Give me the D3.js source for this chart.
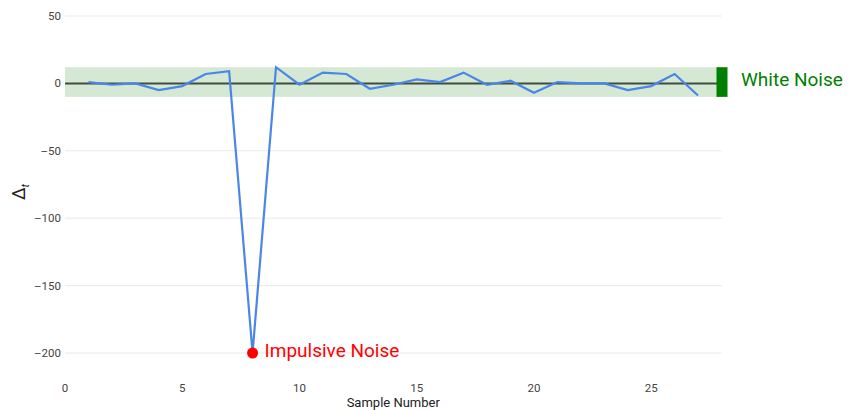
<html>
<head>
<meta charset="utf-8">
<script src="https://cdn.jsdelivr.net/npm/d3@7"></script>
<style>
  body { margin: 0; background: #fff; }
  text { font-family: Roboto, "Noto Sans", sans-serif; }
</style>
<title>White vs impulsive noise</title>
</head>
<body>
<script>
// samples 1..27, value at sample 8 is the impulse
var samples = [1,2,3,4,5,6,7,8,9,10,11,12,13,14,15,16,17,18,19,20,21,22,23,24,25,26,27];
var deltas  = [1,-1,0,-5,-2,7,9,-200,12,-1,8,7,-4,-1,3,1,8,-1,2,-7,1,0,0,-5,-2,7,-9];
var impulseIdx = 7;
var band = [-10, 12];      // white noise range
var xTicks = [0,5,10,15,20,25];
var yTicks = [50,0,-50,-100,-150,-200];

var w = 848, h = 410;
var left = 65, right = 721.5;

var svg = d3.select("body").append("svg")
  .attr("width", w)
  .attr("height", h);

var x = d3.scaleLinear().domain([0, 28]).range([left, right]);
var y = d3.scaleLinear().domain([-200, 50]).range([353, 16]);

// grid
svg.selectAll("line.grid")
  .data(yTicks.filter(function(d){ return d != 0; }))
  .enter().append("line")
  .attr("x1", left).attr("x2", right)
  .attr("y1", function(d){ return y(d); })
  .attr("y2", function(d){ return y(d); })
  .attr("stroke", "#e9e9e9")
  .attr("stroke-width", 1);

// white noise band
svg.append("rect")
  .attr("x", left)
  .attr("width", x(28) - left)
  .attr("y", y(band[1]))
  .attr("height", y(band[0]) - y(band[1]))
  .attr("fill", "#d5e8d4");

// zero line
svg.append("line")
  .attr("x1", left).attr("x2", right)
  .attr("y1", y(0)).attr("y2", y(0))
  .attr("stroke", "#3f4d3f")
  .attr("stroke-width", 2);

// y tick labels
svg.selectAll("text.ytick")
  .data(yTicks)
  .enter().append("text")
  .attr("x", left - 4)
  .attr("y", function(d){ return y(d); })
  .attr("dy", "0.35em")
  .attr("text-anchor", "end")
  .attr("font-size", 11.5)
  .attr("fill", "#444")
  .text(function(d){ return d < 0 ? "\u2013" + Math.abs(d) : d; });

// x tick labels
svg.selectAll("text.xtick")
  .data(xTicks)
  .enter().append("text")
  .attr("x", function(d){ return x(d); })
  .attr("y", 392)
  .attr("text-anchor", "middle")
  .attr("font-size", 11.5)
  .attr("fill", "#444")
  .text(function(d){ return d; });

// axis titles
svg.append("text")
  .attr("x", (left + right) / 2)
  .attr("y", 407)
  .attr("text-anchor", "middle")
  .attr("font-size", 13)
  .attr("fill", "#222")
  .text("Sample Number");

var yt = svg.append("text")
  .attr("transform", "translate(25,192) rotate(-90)")
  .attr("text-anchor", "middle")
  .attr("font-size", 18)
  .attr("fill", "#222");
yt.append("tspan").text("\u0394");
yt.append("tspan").attr("font-size", 11).attr("dy", 4).attr("font-style", "italic").text("t");

// the signal
var line = d3.line()
  .x(function(d, i){ return x(samples[i]); })
  .y(function(d){ return y(d); });

svg.append("path")
  .datum(deltas)
  .attr("d", line)
  .attr("fill", "none")
  .attr("stroke", "#4a86e8")
  .attr("stroke-width", 2.2);

// impulse marker
svg.append("circle")
  .attr("cx", x(samples[impulseIdx]))
  .attr("cy", y(deltas[impulseIdx]))
  .attr("r", 5.5)
  .attr("fill", "#ff0000");

svg.append("text")
  .attr("x", x(samples[impulseIdx]) + 12)
  .attr("y", y(deltas[impulseIdx]))
  .attr("dy", "0.2em")
  .attr("font-size", 19)
  .attr("fill", "#ff0000")
  .text("Impulsive Noise");

// white noise legend bar
svg.append("rect")
  .attr("x", x(28) - 5)
  .attr("width", 11)
  .attr("y", y(band[1]))
  .attr("height", y(band[0]) - y(band[1]))
  .attr("fill", "#008000");

svg.append("text")
  .attr("x", 741)
  .attr("y", y(3))
  .attr("dy", "0.35em")
  .attr("font-size", 19)
  .attr("fill", "#008000")
  .text("White Noise");
</script>
</body>
</html>
